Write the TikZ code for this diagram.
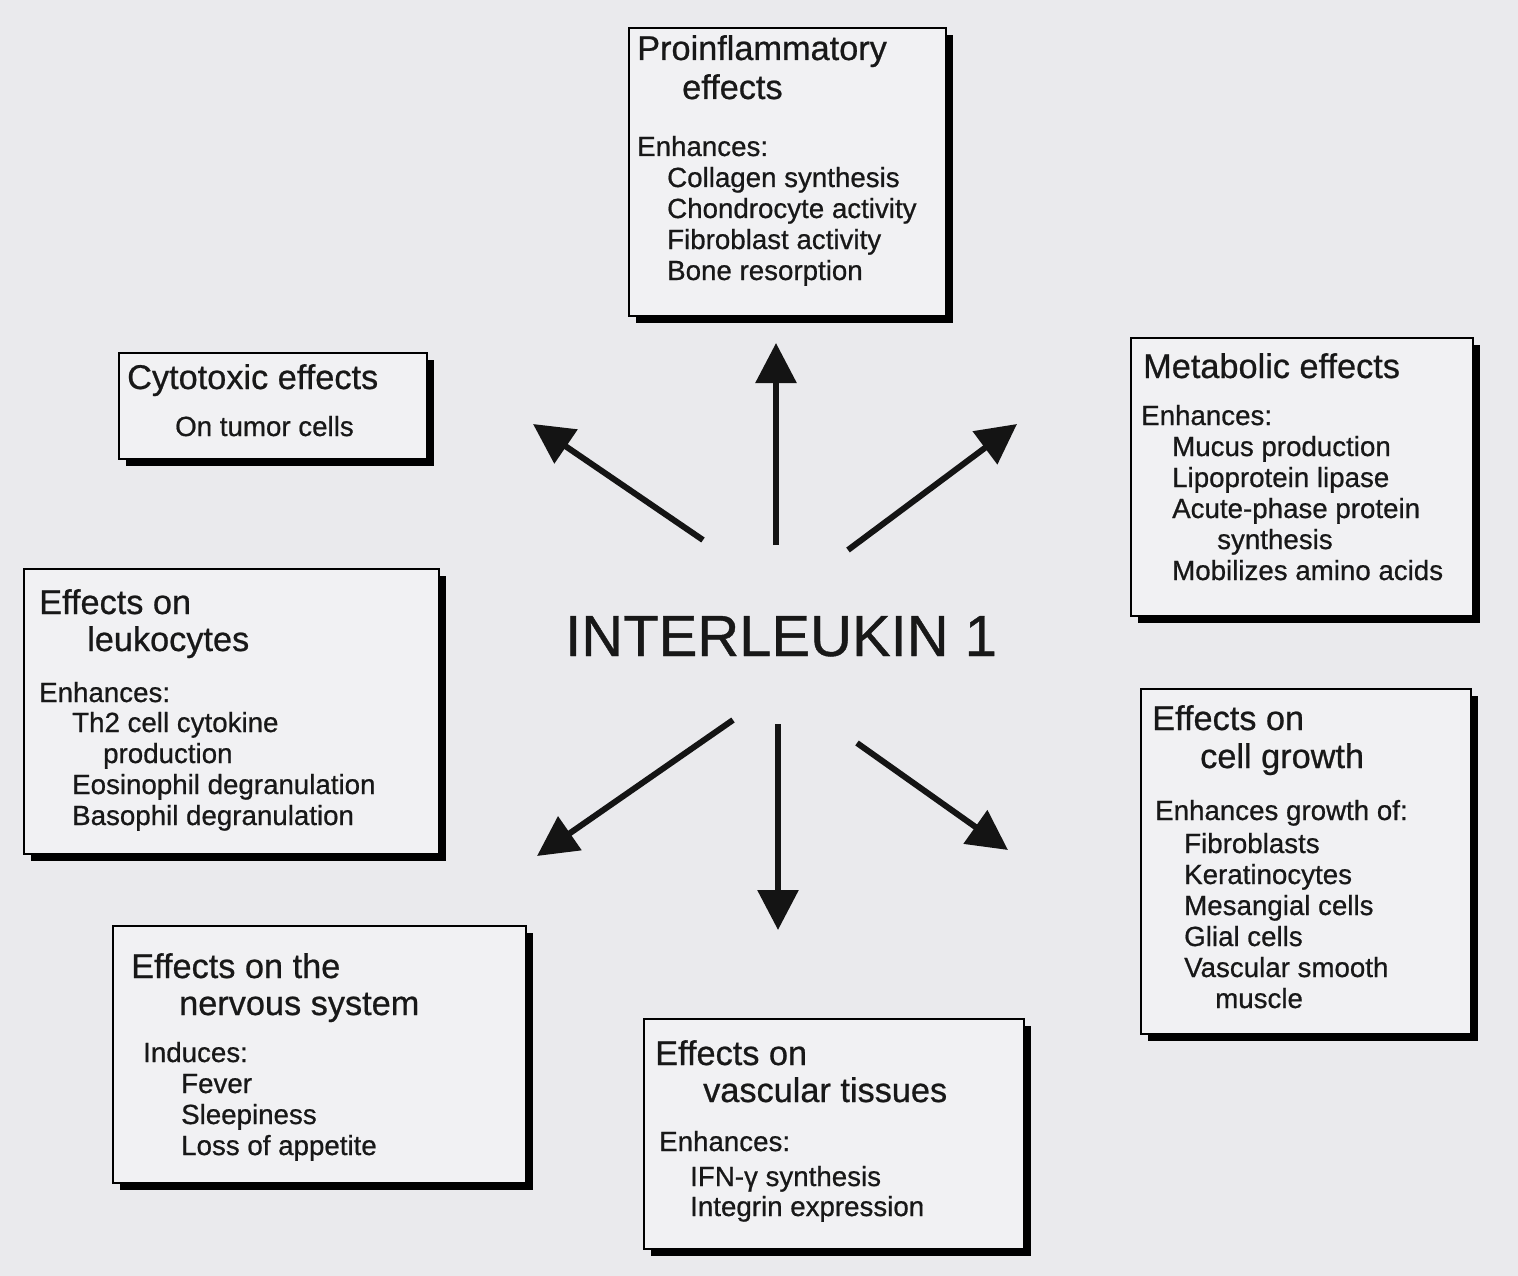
\documentclass[tikz,border=0pt]{standalone}
\usepackage{fontspec}
\setmainfont[FakeBold=0.7,AutoFakeBold=0.7]{Liberation Sans}
\usetikzlibrary{arrows.meta,shadows}
\definecolor{bg}{RGB}{234,234,237}
\definecolor{boxfill}{RGB}{241,241,243}
\definecolor{ink}{RGB}{24,24,24}
\begin{document}
\begin{tikzpicture}[x=1pt,y=-1pt,
  ibox/.style={draw=black, line width=2.2pt, fill=boxfill, inner sep=0pt, anchor=north west,
    drop shadow={shadow xshift=7pt, shadow yshift=-7pt, fill=black, opacity=1}},
  ttl/.style={anchor=base west, inner sep=0pt, text=ink, font=\fontsize{34.3}{38}\selectfont\bfseries},
  bod/.style={anchor=base west, inner sep=0pt, text=ink, font=\fontsize{27.7}{31}\selectfont\bfseries},
  big/.style={anchor=base west, inner sep=0pt, text=ink, font=\fontsize{58}{64}\selectfont\bfseries},
  arr/.style={line width=6pt, draw=black!92, -{Triangle[length=40pt,width=40pt]}}
]
\fill[bg] (0,0) rectangle (1518,1276);
\useasboundingbox (0,0) rectangle (1518,1276);

% boxes
\node[ibox, minimum width=317pt, minimum height=288pt] (b1) at (628,27) {};
\node[ibox, minimum width=308pt, minimum height=106pt] (b2) at (118,352) {};
\node[ibox, minimum width=342pt, minimum height=278pt] (b3) at (1130,337) {};
\node[ibox, minimum width=415pt, minimum height=285pt] (b4) at (23,568) {};
\node[ibox, minimum width=330pt, minimum height=345pt] (b5) at (1140,688) {};
\node[ibox, minimum width=413pt, minimum height=257pt] (b6) at (112,925) {};
\node[ibox, minimum width=380pt, minimum height=230pt] (b7) at (643,1018) {};

% box 1
\node[ttl] (t1a) at (637,60) {Proinflammatory};
\node[ttl] (t1b) at (682,99) {effects};
\node[bod] (t1c) at (637,156) {Enhances:};
\node[bod] (t1d) at (667,187) {Collagen synthesis};
\node[bod] (t1e) at (667,218) {Chondrocyte activity};
\node[bod] (t1f) at (667,249) {Fibroblast activity};
\node[bod] (t1g) at (667,280) {Bone resorption};

% box 2
\node[ttl] (t2a) at (127,389) {Cytotoxic effects};
\node[bod] (t2b) at (175,436) {On tumor cells};

% box 3
\node[ttl] (t3a) at (1143,378) {Metabolic effects};
\node[bod] (t3b) at (1141,425) {Enhances:};
\node[bod] (t3c) at (1172,456) {Mucus production};
\node[bod] (t3d) at (1172,487) {Lipoprotein lipase};
\node[bod] (t3e) at (1172,518) {Acute-phase protein};
\node[bod] (t3f) at (1217,549) {synthesis};
\node[bod] (t3g) at (1172,580) {Mobilizes amino acids};

% box 4
\node[ttl] (t4a) at (39,614) {Effects on};
\node[ttl] (t4b) at (87,651) {leukocytes};
\node[bod] (t4c) at (39,702) {Enhances:};
\node[bod] (t4d) at (72,732) {Th2 cell cytokine};
\node[bod] (t4e) at (103,763) {production};
\node[bod] (t4f) at (72,794) {Eosinophil degranulation};
\node[bod] (t4g) at (72,825) {Basophil degranulation};

% box 5
\node[ttl] (t5a) at (1152,730) {Effects on};
\node[ttl] (t5b) at (1200,768) {cell growth};
\node[bod] (t5c) at (1155,820) {Enhances growth of:};
\node[bod] (t5d) at (1184,853) {Fibroblasts};
\node[bod] (t5e) at (1184,884) {Keratinocytes};
\node[bod] (t5f) at (1184,915) {Mesangial cells};
\node[bod] (t5g) at (1184,946) {Glial cells};
\node[bod] (t5h) at (1184,977) {Vascular smooth};
\node[bod] (t5i) at (1215,1008) {muscle};

% box 6
\node[ttl] (t6a) at (131,978) {Effects on the};
\node[ttl] (t6b) at (179,1015) {nervous system};
\node[bod] (t6c) at (143,1062) {Induces:};
\node[bod] (t6d) at (181,1093) {Fever};
\node[bod] (t6e) at (181,1124) {Sleepiness};
\node[bod] (t6f) at (181,1155) {Loss of appetite};

% box 7
\node[ttl] (t7a) at (655,1065) {Effects on};
\node[ttl] (t7b) at (703,1102) {vascular tissues};
\node[bod] (t7c) at (659,1151) {Enhances:};
\node[bod] (t7d) at (690,1186) {IFN-γ synthesis};
\node[bod] (t7e) at (690,1216) {Integrin expression};

% centre
\node[big] (il) at (565,656) {INTERLEUKIN 1};

% arrows
\coordinate (sN) at (776,545);  \coordinate (eN) at (776,343);
\coordinate (sNW) at (703,540); \coordinate (eNW) at (533,424);
\coordinate (sNE) at (848,550); \coordinate (eNE) at (1017,424);
\coordinate (sSW) at (733,720); \coordinate (eSW) at (537,856);
\coordinate (sS) at (778,724);  \coordinate (eS) at (778,930);
\coordinate (sSE) at (857,743); \coordinate (eSE) at (1008,850);
\draw[arr] (sN) -- (eN);
\draw[arr] (sNW) -- (eNW);
\draw[arr] (sNE) -- (eNE);
\draw[arr] (sSW) -- (eSW);
\draw[arr] (sS) -- (eS);
\draw[arr] (sSE) -- (eSE);
\end{tikzpicture}
\end{document}
